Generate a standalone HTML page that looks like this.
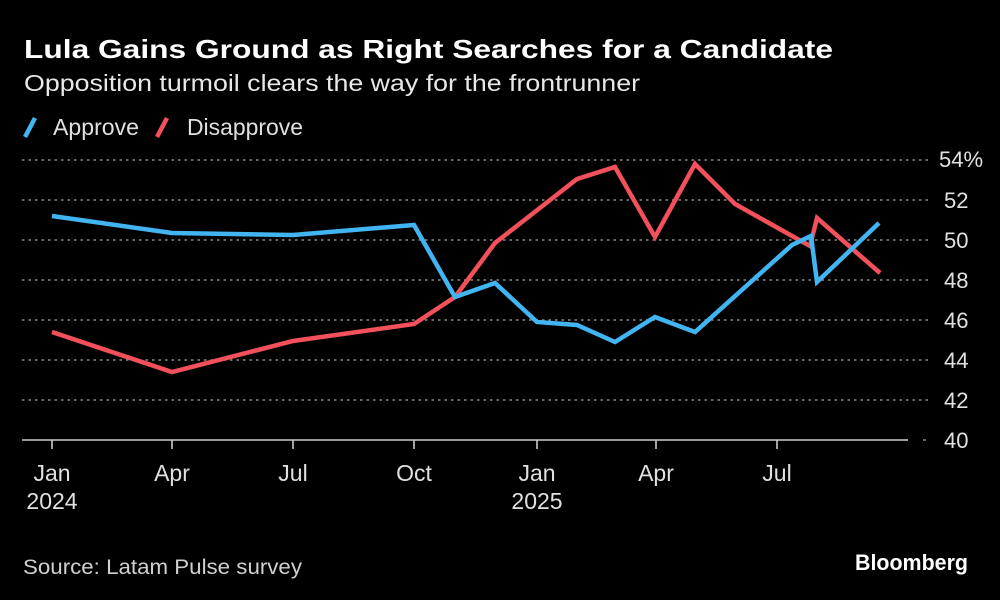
<!DOCTYPE html>
<html>
<head>
<meta charset="utf-8">
<style>
  html, body { margin: 0; padding: 0; background: #000; }
  body { width: 1000px; height: 600px; overflow: hidden; }
  svg { display: block; }
  text { font-family: "Liberation Sans", "DejaVu Sans", sans-serif; }
</style>
</head>
<body>
<svg width="1000" height="600" viewBox="0 0 1000 600" xmlns="http://www.w3.org/2000/svg">
  <rect x="0" y="0" width="1000" height="600" fill="#000"/>

  <!-- Title & subtitle -->
  <text x="24" y="58" font-size="26" font-weight="bold" fill="#ffffff" textLength="809" lengthAdjust="spacingAndGlyphs">Lula Gains Ground as Right Searches for a Candidate</text>
  <text x="24" y="91" font-size="23" fill="#e8e8e8" textLength="616" lengthAdjust="spacingAndGlyphs">Opposition turmoil clears the way for the frontrunner</text>

  <!-- Legend -->
  <line x1="25" y1="137" x2="35" y2="118" stroke="#42b4f2" stroke-width="4.5"/>
  <text x="53" y="135" font-size="23" fill="#e0e0e0" textLength="86" lengthAdjust="spacingAndGlyphs">Approve</text>
  <line x1="157" y1="137" x2="167" y2="118" stroke="#f2505a" stroke-width="4.5"/>
  <text x="187" y="135" font-size="23" fill="#e0e0e0" textLength="116" lengthAdjust="spacingAndGlyphs">Disapprove</text>

  <!-- Gridlines -->
  <g stroke="#8a8a8a" stroke-width="1.6" stroke-dasharray="2.5 4">
    <line x1="22" y1="160" x2="928" y2="160"/>
    <line x1="22" y1="200" x2="928" y2="200"/>
    <line x1="22" y1="240" x2="928" y2="240"/>
    <line x1="22" y1="280" x2="928" y2="280"/>
    <line x1="22" y1="320" x2="928" y2="320"/>
    <line x1="22" y1="360" x2="928" y2="360"/>
    <line x1="22" y1="400" x2="928" y2="400"/>
  </g>
  <line x1="923" y1="440" x2="926" y2="440" stroke="#8a8a8a" stroke-width="1.5"/>

  <!-- Y labels -->
  <g font-size="22" fill="#e0e0e0">
    <text x="939" y="167">54%</text>
    <text x="944" y="208">52</text>
    <text x="944" y="248">50</text>
    <text x="944" y="288">48</text>
    <text x="944" y="328">46</text>
    <text x="944" y="368">44</text>
    <text x="944" y="408">42</text>
    <text x="944" y="448">40</text>
  </g>

  <!-- X axis -->
  <line x1="22" y1="440" x2="908" y2="440" stroke="#cccccc" stroke-width="1.6"/>
  <g stroke="#cccccc" stroke-width="1.6">
    <line x1="52" y1="440" x2="52" y2="449"/>
    <line x1="172" y1="440" x2="172" y2="449"/>
    <line x1="293" y1="440" x2="293" y2="449"/>
    <line x1="414" y1="440" x2="414" y2="449"/>
    <line x1="537" y1="440" x2="537" y2="449"/>
    <line x1="656" y1="440" x2="656" y2="449"/>
    <line x1="777" y1="440" x2="777" y2="449"/>
  </g>
  <g font-size="23" fill="#e0e0e0" text-anchor="middle">
    <text x="52" y="481">Jan</text>
    <text x="52" y="509">2024</text>
    <text x="172" y="481">Apr</text>
    <text x="293" y="481">Jul</text>
    <text x="414" y="481">Oct</text>
    <text x="537" y="481">Jan</text>
    <text x="537" y="509">2025</text>
    <text x="656" y="481">Apr</text>
    <text x="777" y="481">Jul</text>
  </g>

  <!-- Series: Disapprove (red) -->
  <polyline fill="none" stroke="#f2505a" stroke-width="4.5" stroke-linejoin="miter" stroke-miterlimit="6"
    points="52,332 172,372 293,341 414,324 455,297 495,243 577,179 615,167 655,237 695,164 735,204 810,246 817,218 880,273"/>

  <!-- Series: Approve (blue) -->
  <polyline fill="none" stroke="#42b4f2" stroke-width="4.5" stroke-linejoin="miter" stroke-miterlimit="6"
    points="52,216 172,233 293,235 414,225 455,297 495,283 537,322 577,325 615,342 655,317 695,332 792,245 811,236 817,282 879,223"/>

  <!-- Footer -->
  <text x="23" y="574" font-size="21" fill="#d0d0d0" textLength="279" lengthAdjust="spacingAndGlyphs">Source: Latam Pulse survey</text>
  <text x="855" y="570" font-size="22" font-weight="bold" fill="#ffffff" textLength="113" lengthAdjust="spacingAndGlyphs">Bloomberg</text>
</svg>
</body>
</html>
